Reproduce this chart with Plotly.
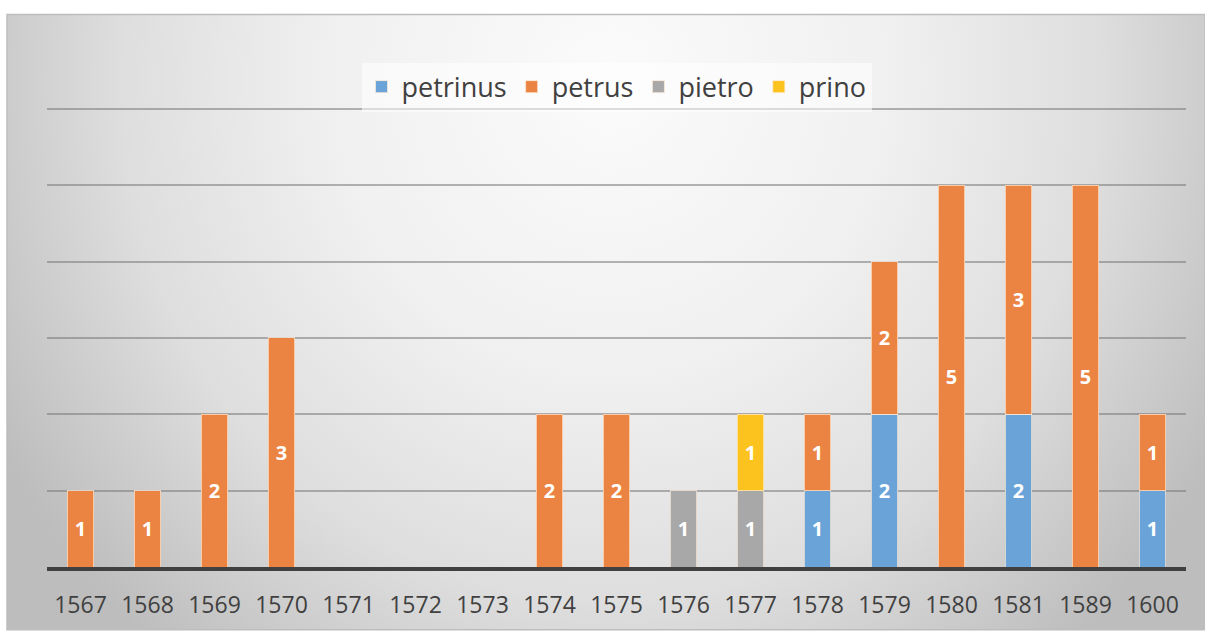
import base64
import plotly.graph_objects as go

# Years on the category axis
years = ["1567", "1568", "1569", "1570", "1571", "1572", "1573", "1574", "1575",
         "1576", "1577", "1578", "1579", "1580", "1581", "1589", "1600"]

# Counts per spelling (None = no occurrence that year)
petrinus = [None, None, None, None, None, None, None, None, None,
            None, None, 1, 2, None, 2, None, 1]
petrus = [1, 1, 2, 3, None, None, None, 2, 2,
          None, None, 1, 2, 5, 3, 5, 1]
pietro = [None, None, None, None, None, None, None, None, None,
          1, 1, None, None, None, None, None, None]
prino = [None, None, None, None, None, None, None, None, None,
         None, 1, None, None, None, None, None, None]

series = [
    ("petrinus", petrinus, "#6aa3d8"),
    ("petrus", petrus, "#eb8442"),
    ("pietro", pietro, "#a8a8a8"),
    ("prino", prino, "#fcc21e"),
]

W, H = 1205, 632
L, R, T, B = 47, 19, 105, 63
PW, PH = W - L - R, H - T - B

# Chart-area backdrop: soft radial gradient, light near the top centre
fx0, fy0, fx1, fy1 = 7, 14, 1205, 632
fw, fh = fx1 - fx0, fy1 - fy0
cx, cy = 603, 66
svg = f"""<svg xmlns='http://www.w3.org/2000/svg' width='{fw}' height='{fh}' viewBox='0 0 {fw} {fh}'>
<defs><radialGradient id='g' gradientUnits='userSpaceOnUse' cx='{cx}' cy='{cy}' r='700'
 gradientTransform='translate({cx} {cy}) scale(1 1.07) translate(-{cx} -{cy})'>
<stop offset='0' stop-color='#fbfbfb'/>
<stop offset='0.4' stop-color='#f0f0f0'/>
<stop offset='0.7' stop-color='#dedede'/>
<stop offset='1' stop-color='#bdbdbd'/>
</radialGradient></defs>
<rect x='0' y='0' width='{fw}' height='{fh}' fill='url(#g)'/>
</svg>"""
bg_src = "data:image/svg+xml;base64," + base64.b64encode(svg.encode()).decode()

fig = go.Figure()
for name, vals, color in series:
    fig.add_trace(go.Bar(
        x=years, y=vals, name=name,
        marker=dict(color=color, line=dict(color="rgba(255,235,215,0.7)", width=1)),
        texttemplate="%{y}", textposition="inside", insidetextanchor="middle",
        textangle=0, constraintext="none",
        textfont=dict(family="Open Sans", size=20, color="white", weight="bold"),
    ))

fig.add_layout_image(dict(
    source=bg_src, xref="paper", yref="paper",
    x=(fx0 - L) / PW, y=1 + (T - fy0) / PH,
    sizex=fw / PW, sizey=fh / PH,
    xanchor="left", yanchor="top", sizing="stretch", layer="below",
))

fig.add_shape(type="rect", xref="paper", yref="paper",
              x0=(fx0 - L) / PW, x1=(fx1 - L) / PW,
              y0=1 + (T - fy1) / PH, y1=1 + (T - fy0) / PH,
              line=dict(color="#bdbdbd", width=1.5), layer="below")

fig.update_layout(
    width=W, height=H,
    margin=dict(l=L, r=R, t=T, b=B),
    barmode="stack", bargap=0.61,
    paper_bgcolor="white", plot_bgcolor="rgba(0,0,0,0)",
    font=dict(family="Open Sans", color="#404040"),
    legend=dict(
        orientation="h", x=0.5, xanchor="center",
        y=1 + (T - 87) / PH, yanchor="middle",
        traceorder="normal",
        font=dict(size=27, color="#404040"),
        bgcolor="rgba(255,255,255,0.55)",
        itemwidth=30, tracegroupgap=0,
    ),
    xaxis=dict(
        type="category", showgrid=False,
        showline=True, linecolor="#404040", linewidth=4,
        ticks="outside", ticklen=14, tickcolor="rgba(0,0,0,0)",
        tickfont=dict(size=23, color="#404040"),
    ),
    yaxis=dict(
        range=[0, 6.05], dtick=1, showticklabels=False,
        showgrid=True, gridcolor="rgba(120,120,120,0.55)", gridwidth=2,
        zeroline=False, showline=False,
    ),
)

fig.write_html("out.html")
